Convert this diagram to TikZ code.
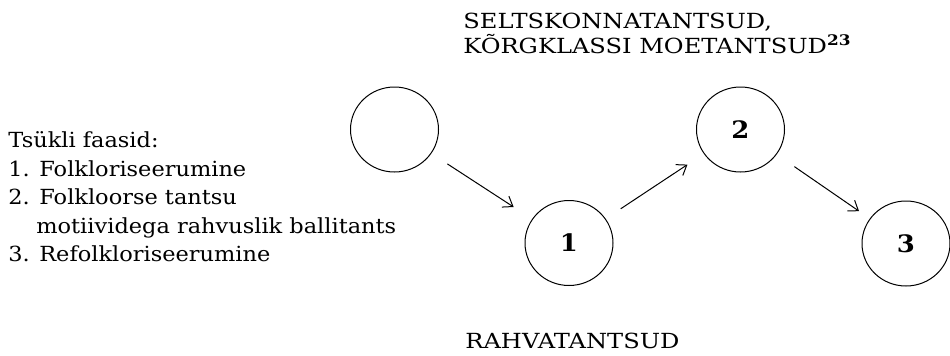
\documentclass[tikz,border=0pt]{standalone}
\usepackage{fontspec}
\setmainfont{DejaVu Serif}[FakeStretch=1.08]
\newfontfamily\capsfont{DejaVu Serif}[FakeStretch=1.16]
\usetikzlibrary{shapes.geometric,arrows.meta}
\begin{document}
\begin{tikzpicture}[x=0.5pt,y=-0.5pt,
  txt/.style={anchor=base west,inner sep=0pt,font=\fontsize{10.4}{12}\selectfont},
  captxt/.style={txt,font=\fontsize{10.4}{12}\capsfont},
  phase/.style={draw,ellipse,line width=0.5pt,minimum width=44pt,minimum height=42.5pt,inner sep=0pt,font=\fontsize{12}{14}\selectfont\bfseries},
  flow/.style={-{Straight Barb[length=4.5pt,width=6.5pt,line width=0.5pt]},line width=0.5pt}]
\useasboundingbox (0,0) rectangle (950,355);

% legend of the cycle phases
\node[txt] (l0) at (8,147.5) {Tsükli faasid:};
\node[txt] (l1) at (8,176) {1. Folkloriseerumine};
\node[txt] (l2) at (8,204.5) {2. Folkloorse tantsu};
\node[txt] (l3) at (36,233) {motiividega rahvuslik ballitants};
\node[txt] (l4) at (8,261.5) {3. Refolkloriseerumine};

% level labels
\node[captxt] (top1) at (463,28) {SELTSKONNATANTSUD,};
\node[captxt] (top2) at (463,53) {KÕRGKLASSI MOETANTSUD\textsuperscript{\bfseries 23}};
\node[captxt] (bottom) at (465,348) {RAHVATANTSUD};

% phases
\node[phase] (e)  at (394.5,129.5) {};
\node[phase] (n1) at (569,243) {1};
\node[phase] (n2) at (740.5,129.5) {2};
\node[phase] (n3) at (906,243.5) {3};

\draw[flow,shorten <=9.5pt,shorten >=11pt] (e) -- (n1);
\draw[flow,shorten <=9pt,shorten >=9.8pt] (n1) -- (n2);
\draw[flow,shorten <=10.7pt,shorten >=6.5pt] (n2) -- (n3);
\end{tikzpicture}
\end{document}
